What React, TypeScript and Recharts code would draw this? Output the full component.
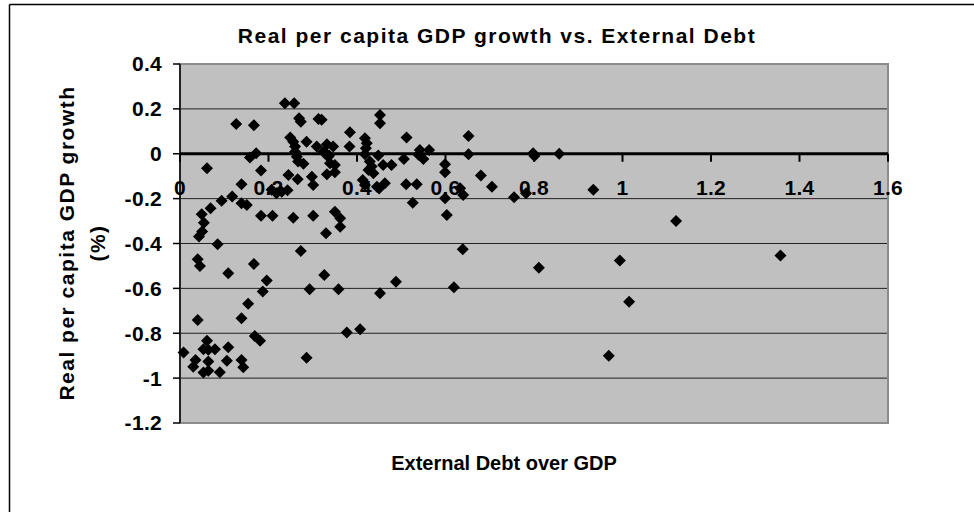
import React from "react";
import {
  ScatterChart,
  Scatter,
  XAxis,
  YAxis,
  CartesianGrid,
  ReferenceLine,
  ReferenceDot,
  ReferenceArea,
} from "recharts";

const debtRatio = [
  0.008, 0.03, 0.035, 0.053, 0.064, 0.09, 0.061, 0.053, 0.064, 0.079,
  0.109, 0.064, 0.106, 0.139, 0.143, 0.04, 0.139, 0.154, 0.169, 0.181,
  0.187, 0.196, 0.167, 0.109, 0.04, 0.045, 0.085, 0.043, 0.05, 0.054,
  0.049, 0.069, 0.094, 0.118, 0.139, 0.151, 0.139, 0.061, 0.127, 0.167,
  0.158, 0.172, 0.183, 0.183, 0.209, 0.207, 0.218, 0.23, 0.243, 0.237,
  0.258, 0.269, 0.273, 0.249, 0.256, 0.26, 0.26, 0.264, 0.267, 0.279,
  0.286, 0.266, 0.256, 0.273, 0.286, 0.293, 0.298, 0.301, 0.301, 0.309,
  0.313, 0.32, 0.324, 0.332, 0.335, 0.339, 0.332, 0.346, 0.35, 0.35,
  0.326, 0.33, 0.35, 0.362, 0.362, 0.358, 0.377, 0.407, 0.384, 0.383,
  0.418, 0.422, 0.42, 0.418, 0.429, 0.433, 0.426, 0.437, 0.413, 0.418,
  0.452, 0.452, 0.448, 0.459, 0.478, 0.445, 0.45, 0.463, 0.452, 0.488,
  0.512, 0.506, 0.539, 0.542, 0.55, 0.563, 0.511, 0.535, 0.526, 0.599,
  0.599, 0.599, 0.603, 0.633, 0.64, 0.619, 0.639, 0.652, 0.652, 0.68,
  0.705, 0.755, 0.782, 0.798, 0.801, 0.857, 0.811, 0.934, 0.969, 0.994,
  1.015, 1.121, 1.357, 0.245, 0.33, 0.337,
];
const gdpGrowth = [
  -0.886, -0.949, -0.919, -0.975, -0.967, -0.974, -0.833, -0.871, -0.874, -0.871,
  -0.862, -0.926, -0.923, -0.919, -0.951, -0.741, -0.733, -0.669, -0.812, -0.833,
  -0.614, -0.565, -0.491, -0.533, -0.47, -0.5, -0.403, -0.369, -0.347, -0.307,
  -0.27, -0.243, -0.21, -0.191, -0.221, -0.228, -0.136, -0.065, 0.133, 0.127,
  -0.017, 0.002, -0.075, -0.276, -0.276, -0.161, -0.176, -0.169, -0.163, 0.225,
  0.225, 0.158, 0.143, 0.072, 0.054, 0.032, 0.009, -0.013, -0.035, -0.045,
  0.054, -0.114, -0.285, -0.433, -0.909, -0.604, -0.102, -0.139, -0.276, 0.032,
  0.155, 0.151, 0.009, 0.042, -0.013, -0.042, -0.091, 0.032, -0.05, -0.083,
  -0.54, -0.354, -0.258, -0.288, -0.325, -0.604, -0.797, -0.782, 0.096, 0.032,
  0.069, 0.047, 0.025, -0.002, -0.035, -0.057, -0.072, -0.087, -0.117, -0.139,
  0.173, 0.136, -0.008, -0.05, -0.05, -0.147, -0.155, -0.131, -0.622, -0.571,
  0.072, -0.023, -0.005, 0.017, -0.023, 0.017, -0.136, -0.136, -0.218, -0.047,
  -0.082, -0.198, -0.273, -0.154, -0.184, -0.595, -0.426, 0.079, -0.002, -0.097,
  -0.147, -0.194, -0.176, 0.002, -0.01, 0.0, -0.508, -0.161, -0.9, -0.476,
  -0.66, -0.3, -0.454, -0.095, 0.001, -0.008,
];

const xTicks = [0, 0.2, 0.4, 0.6, 0.8, 1, 1.2, 1.4, 1.6];
const xTickLabels = ["0", "0.2", "0.4", "0.6", "0.8", "1", "1.2", "1.4", "1.6"];
const yTicks = [-1.2, -1, -0.8, -0.6, -0.4, -0.2, 0, 0.2, 0.4];
const yTickLabels = ["-1.2", "-1", "-0.8", "-0.6", "-0.4", "-0.2", "0", "0.2", "0.4"];

const points = debtRatio.map((x, i) => ({ x, y: gdpGrowth[i] }));

const FONT = "'Liberation Sans', Arial, sans-serif";

const Diamond = (props: any) => {
  const { cx, cy } = props;
  const r = 6;
  return (
    <polygon
      points={`${cx},${cy - r} ${cx + r},${cy} ${cx},${cy + r} ${cx - r},${cy}`}
      fill="#000"
    />
  );
};

// x-axis ticks sit on the zero line, Excel style
const ZeroLineTick = ({ cx, cy, text }: any) => (
  <g>
    <line x1={cx} y1={cy} x2={cx} y2={cy + 8} stroke="#000" strokeWidth={2} />
    <text
      x={cx}
      y={cy + 41}
      textAnchor="middle"
      fontFamily={FONT}
      fontWeight="bold"
      fontSize={21}
      letterSpacing={0.3}
      fill="#000"
    >
      {text}
    </text>
  </g>
);

export default function App() {
  return (
    <div
      style={{
        position: "absolute",
        left: 0,
        top: 0,
        width: 974,
        height: 512,
        overflow: "hidden",
        background: "#fff",
      }}
    >
      <ScatterChart
        width={974}
        height={512}
        margin={{ top: 64, right: 86, bottom: 89, left: 100 }}
      >
        <CartesianGrid
          horizontal
          vertical={false}
          stroke="#222"
          fill="#c0c0c0"
          fillOpacity={1}
        />
        <ReferenceArea
          x1={0}
          x2={1.6}
          y1={-1.2}
          y2={0.4}
          fill="none"
          stroke="#8c8c8c"
          strokeWidth={2}
        />
        <XAxis type="number" dataKey="x" domain={[0, 1.6]} ticks={xTicks} hide />
        <YAxis
          type="number"
          dataKey="y"
          domain={[-1.2, 0.4]}
          ticks={yTicks}
          width={80}
          axisLine={{ stroke: "#000", strokeWidth: 1.5 }}
          tickLine={{ stroke: "#000", strokeWidth: 1.5 }}
          tickSize={7}
          tickMargin={11}
          tick={{ fill: "#000", fontFamily: FONT, fontWeight: "bold", fontSize: 21, letterSpacing: 0.3 }}
          tickFormatter={(v: number) => yTickLabels[yTicks.indexOf(v)] ?? String(v)}
        />
        <ReferenceLine y={0} stroke="#000" strokeWidth={3} />
        {xTicks.map((t, i) => (
          <ReferenceDot
            key={t}
            x={t}
            y={0}
            r={0}
            ifOverflow="visible"
            shape={(p: any) => <ZeroLineTick {...p} text={xTickLabels[i]} />}
          />
        ))}
        <Scatter data={points} shape={<Diamond />} isAnimationActive={false} />
      </ScatterChart>
      <svg
        width={974}
        height={512}
        style={{ position: "absolute", left: 0, top: 0, pointerEvents: "none" }}
      >
        <line x1={9.5} y1={4.5} x2={974} y2={4.5} stroke="#000" strokeWidth={1.5} />
        <line x1={9.5} y1={4.5} x2={9.5} y2={512} stroke="#000" strokeWidth={1.5} />
        <text
          x={497}
          y={43}
          textAnchor="middle"
          fontFamily={FONT}
          fontWeight="bold"
          fontSize={21}
          letterSpacing={1.5}
        >
          Real per capita GDP growth vs. External Debt
        </text>
        <text
          x={504}
          y={470}
          textAnchor="middle"
          fontFamily={FONT}
          fontWeight="bold"
          fontSize={20}
        >
          External Debt over GDP
        </text>
        <g fontFamily={FONT} fontWeight="bold" fontSize={21} letterSpacing={1.5}>
          <text x={74} y={243} textAnchor="middle" transform="rotate(-90 74 243)">
            Real per capita GDP growth
          </text>
          <text x={105} y={243} textAnchor="middle" transform="rotate(-90 105 243)">
            (%)
          </text>
        </g>
      </svg>
    </div>
  );
}
